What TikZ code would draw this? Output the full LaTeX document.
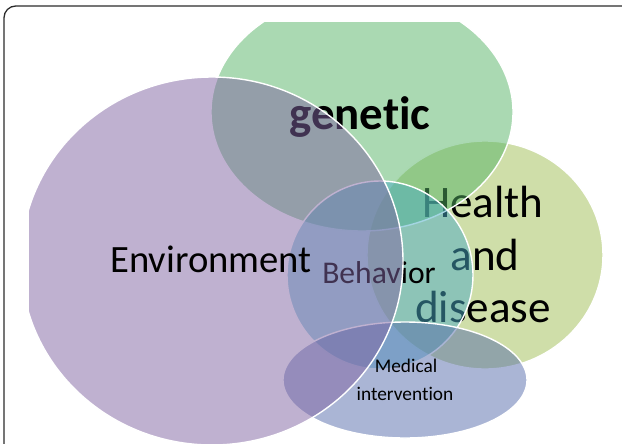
\documentclass[tikz,border=0pt]{standalone}
\usepackage{fontspec}
\setmainfont{Carlito}[Ligatures=NoCommon]
\definecolor{envfill}{HTML}{8064A2}
\definecolor{genfill}{HTML}{55B365}
\definecolor{healthfill}{HTML}{9FBD53}
\definecolor{behavfill}{HTML}{4BACC6}
\definecolor{medfill}{HTML}{566CAB}
\definecolor{framecol}{HTML}{2B2B2B}

\begin{document}
\begin{tikzpicture}[x=0.03cm, y=-0.03cm, line join=round,
  blob/.style={draw=white, line width=1.2pt, fill opacity=0.5, draw opacity=1},
  word/.style={inner sep=0pt, anchor=base, text=black}]

\useasboundingbox (0,0) rectangle (622,443);

% frame of the figure
\draw[framecol, line width=1.1pt, rounded corners=10] (4,6) rectangle (660,480);

\begin{scope}
\clip (29,22) rectangle (622,443);

% health and disease
\fill[blob, fill=healthfill] (485,255) ellipse (118 and 114);
\node[word, font=\fontsize{38.5}{38.5}\selectfont] (health) at (483,217) {Health};
\node[word, font=\fontsize{38.5}{38.5}\selectfont] (and) at (485,270) {and};
\node[word, font=\fontsize{38.5}{38.5}\selectfont] (disease) at (483,322) {disease};

% genetic
\filldraw[blob, fill=genfill] (362,112) ellipse (151 and 119);
\node[word, font=\fontsize{40}{40}\selectfont\bfseries] (genetic) at (360,129) {genetic};

% behavior
\filldraw[blob, fill=behavfill] (380,275) ellipse (93 and 94);
\node[word, font=\fontsize{27}{27}\selectfont] (behavior) at (379,283) {Behavior};

% medical intervention
\filldraw[blob, fill=medfill] (405,380) ellipse (122 and 58);
\node[word, font=\fontsize{16.5}{16.5}\selectfont] (medical) at (406,372) {Medical};
\node[word, font=\fontsize{16.5}{16.5}\selectfont] (interv) at (405,400) {intervention};

% environment
\filldraw[blob, fill=envfill] (212,261) ellipse (191 and 184);
\node[word, font=\fontsize{33}{33}\selectfont] (env) at (211,272) {Environment};
\end{scope}
\end{tikzpicture}
\end{document}
